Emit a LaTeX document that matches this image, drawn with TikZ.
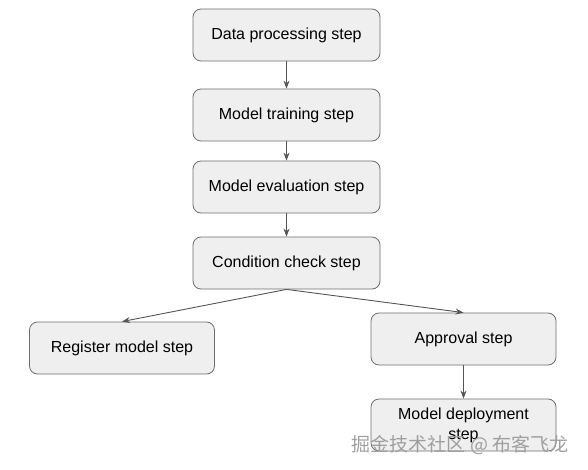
\documentclass[tikz,border=0pt]{standalone}
\usepackage{fontspec}
\setmainfont{Liberation Sans}
\newfontfamily\cjk{Noto Sans CJK SC}
\usetikzlibrary{arrows.meta}
\definecolor{boxfill}{HTML}{EFEFEF}
\definecolor{boxline}{HTML}{6E6E6E}
\definecolor{arrowc}{HTML}{555555}
\tikzset{
  stepbox/.style={draw=boxline, line width=0.8pt, fill=boxfill, rounded corners=8pt,
    minimum width=187pt, minimum height=52pt, inner sep=0pt, align=center,
    font=\fontsize{16}{20}\selectfont, text=black},
  conn/.style={draw=arrowc, line width=0.9pt, -{Stealth[length=8pt,width=6pt]}},
}
\begin{document}
\begin{tikzpicture}[x=1pt,y=-1pt]
\useasboundingbox (0,0) rectangle (588,470);
\node[stepbox] (dp) at (286.5,35) {Data processing step};
\node[stepbox] (mt) at (286.5,115) {Model training step};
\node[stepbox] (me) at (286.5,187) {Model evaluation step};
\node[stepbox] (cc) at (286.5,263) {Condition check step};
\node[stepbox, minimum width=185pt] (rm) at (122,348) {Register model step};
\node[stepbox, minimum width=185pt] (ap) at (463.5,339) {Approval step};
\node[stepbox, minimum width=185pt] (md) at (463.5,425) {Model deployment\\step};
\draw[conn] (dp) -- (mt);
\draw[conn] (mt) -- (me);
\draw[conn] (me) -- (cc);
\draw[conn] (cc.south) -- (rm.north);
\draw[conn] (cc.south) -- (ap.north);
\draw[conn] (ap) -- (md);
\node[font={\cjk\fontsize{19}{22}\selectfont}, text=gray!75, inner sep=0pt] (wm) at (460,445) {掘金技术社区 @ 布客飞龙};
\end{tikzpicture}
\end{document}
